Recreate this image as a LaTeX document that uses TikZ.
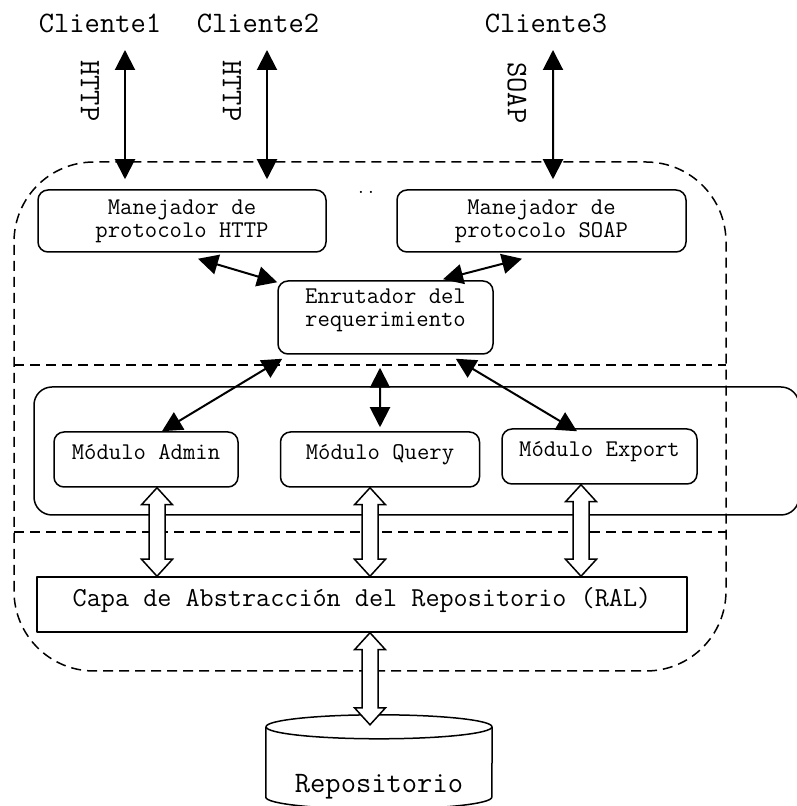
\documentclass[tikz,border=0pt]{standalone}
\usepackage{fontspec}
\usetikzlibrary{arrows.meta,calc}
\begin{document}
\begin{tikzpicture}[line join=bevel,
  txt/.style={inner sep=0pt,font=\ttfamily\fontsize{29.7bp}{31bp}\selectfont},
  box/.style={draw,line width=1.5bp,rounded corners=10bp,align=center,font=\ttfamily\fontsize{24bp}{23bp}\selectfont},
  modbox/.style={box,minimum height=55bp,text height=13bp,text depth=12bp},
  zone/.style={dash pattern=on 10bp off 6bp,line width=1.5bp},
  both/.style={line width=2bp,{Triangle[length=20bp,width=20bp]}-{Triangle[length=20bp,width=20bp]}},
  dbl/.style={draw,fill=white,line width=1.5bp,line join=miter,
    to path={let \p1=(\tikztostart), \p2=(\tikztotarget) in
      (\x1,\y1) -- (\x1+15.5bp,\y1-17bp) -- (\x1+8bp,\y1-17bp) -- (\x1+8bp,\y2+17bp)
      -- (\x1+15.5bp,\y2+17bp) -- (\x1,\y2) -- (\x1-15.5bp,\y2+17bp) -- (\x1-8bp,\y2+17bp)
      -- (\x1-8bp,\y1-17bp) -- (\x1-15.5bp,\y1-17bp) -- cycle}}]
%%
\useasboundingbox (0bp,0bp) rectangle (797bp,806bp);
%% capas
\draw [zone,rounded corners=80bp] (14bp,135bp) rectangle (726bp,644bp);
\draw [zone] (14bp,441bp) -- (726bp,441bp);
\draw [zone] (14bp,274bp) -- (726bp,274bp);
%% clientes
\node (cliente1) at (100bp,773bp) [txt,anchor=base] {Cliente1};
  \node (cliente2) at (258bp,773bp) [txt,anchor=base] {Cliente2};
  \node (cliente3) at (546bp,773bp) [txt,anchor=base] {Cliente3};
  \node (http1) at (90bp,715bp) [txt,rotate=-90] {HTTP};
  \node (http2) at (232bp,715bp) [txt,rotate=-90] {HTTP};
  \node (soap) at (517bp,713bp) [txt,rotate=-90] {SOAP};
%% nodos
\node (modulos) at (416.5bp,355bp) [draw,line width=1.5bp,rounded corners=18bp,minimum width=765bp,minimum height=128bp] {};
  \node (manhttp) at (182bp,585bp) [box,minimum width=288bp,minimum height=62bp] {Manejador de\\protocolo HTTP};
  \node (mansoap) at (541.5bp,585bp) [box,minimum width=289bp,minimum height=62bp] {Manejador de\\protocolo SOAP};
  \node (puntos) at (366bp,612bp) [anchor=base,inner sep=0pt,font=\ttfamily\fontsize{19bp}{19bp}\selectfont] {..};
  \node (enrutador) at (385.5bp,488.5bp) [box,minimum width=215bp,minimum height=73bp,
    label={[name=enrutadortxt,align=center,yshift=7bp,font=\ttfamily\fontsize{24bp}{23bp}\selectfont]center:Enrutador del\\requerimiento}] {};
  \node (admin) at (146bp,346.5bp) [modbox,minimum width=184bp] {Módulo Admin};
  \node (query) at (380bp,346.5bp) [modbox,minimum width=199bp] {Módulo Query};
  \node (export) at (599.5bp,349.5bp) [modbox,minimum width=195bp] {Módulo Export};
  \node (ral) at (362bp,201.5bp) [draw,line width=1.5bp,minimum width=650bp,minimum height=55bp,
    text height=18bp,text depth=13bp,font=\ttfamily\fontsize{27.4bp}{28bp}\selectfont] {Capa de Abstracción del Repositorio (RAL)};
  \node (repo) at (379bp,44bp) [minimum width=226bp,minimum height=94bp,inner sep=0pt,
    label={[name=repotxt,txt,yshift=-25bp]center:Repositorio}] {};
%% cilindro
\draw [line width=1.5bp] ([yshift=-12bp]repo.north west) -- ([yshift=12bp]repo.south west)
    arc [start angle=180,end angle=360,x radius=113bp,y radius=12bp] -- ([yshift=-12bp]repo.north east);
  \draw [line width=1.5bp] ([yshift=-12bp]repo.north) ellipse [x radius=113bp,y radius=12bp];
%% conexiones
\draw [both] ([shift={(25bp,-17bp)}]cliente1.base) -- ([shift={(-57bp,10bp)}]manhttp.north);
  \draw [both] ([shift={(9bp,-17bp)}]cliente2.base) -- ([shift={(85bp,10bp)}]manhttp.north);
  \draw [both] ([shift={(7bp,-17bp)}]cliente3.base) -- ([shift={(11.5bp,10bp)}]mansoap.north);
  \draw [both] ([shift={(16bp,-6bp)}]manhttp.south) -- ([yshift=-2bp]enrutador.north west);
  \draw [both] ([shift={(57.5bp,1bp)}]enrutador.north) -- ([shift={(-19.5bp,-6bp)}]mansoap.south);
  \draw [both] ([shift={(5bp,-4bp)}]enrutador.south west) -- ([xshift=16bp]admin.north);
  \draw [both] ([shift={(-5.5bp,-13bp)}]enrutador.south) -- ([yshift=4bp]query.north);
  \draw [both] ([shift={(-38bp,-4bp)}]enrutador.south east) -- ([shift={(-22.5bp,-3bp)}]export.north);
  \draw [dbl] ([xshift=11bp]admin.south) to ([xshift=11bp]admin.south |- ral.north);
  \draw [dbl] ([xshift=-10bp]query.south) to ([xshift=-10bp]query.south |- ral.north);
  \draw [dbl] ([xshift=-18.5bp]export.south) to ([xshift=-18.5bp]export.south |- ral.north);
  \draw [dbl] ([xshift=8bp]ral.south) to ([xshift=8bp,yshift=-10bp]repo.north);
%
\end{tikzpicture}
\end{document}
